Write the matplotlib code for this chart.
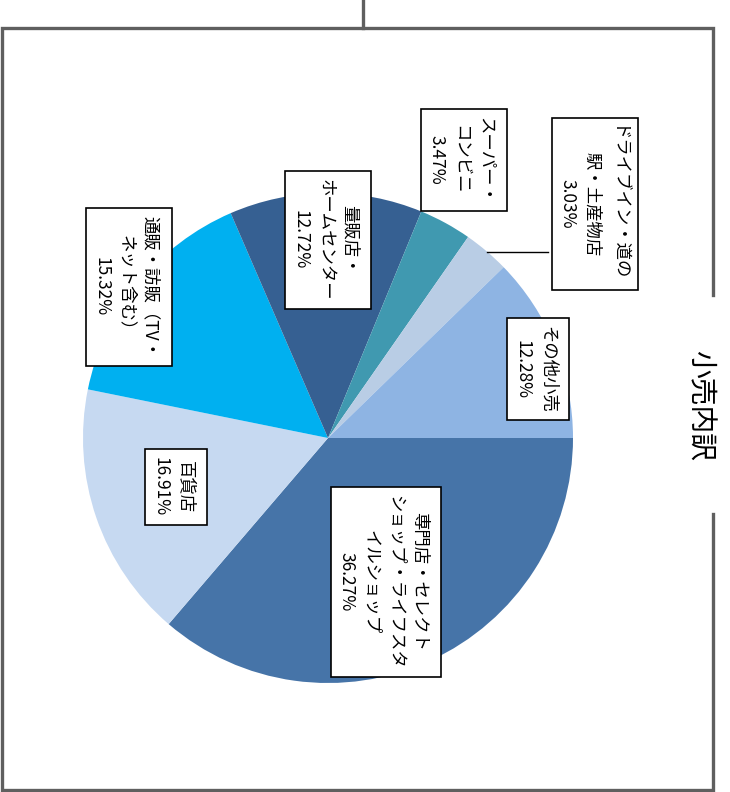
import matplotlib.pyplot as plt
from matplotlib.patches import Rectangle

plt.rcParams['font.family'] = ['Noto Sans CJK JP', 'DejaVu Sans']

# data (clockwise from 3 o'clock, as drawn)
labels = ["専門店・セレクト\nショップ・ライフスタ\nイルショップ",
          "百貨店",
          "通販・訪販（TV・\nネット含む）",
          "量販店・\nホームセンター",
          "スーパー・\nコンビニ",
          "ドライブイン・道の\n駅・土産物店",
          "その他小売"]
shares = [36.27, 16.91, 15.32, 12.72, 3.47, 3.03, 12.28]
colors = ["#4674A8", "#C6D9F1", "#00B0F0", "#366092",
          "#4099B0", "#B9CDE5", "#8EB4E3"]
# label box centres in pixels (x, y from top)
label_pos = [(383, 582), (173, 487), (126, 287), (325, 240),
             (461, 160), (592, 204), (535, 369)]

W, H = 730, 792
fig = plt.figure(figsize=(W / 100, H / 100), dpi=100)

cx, cy, r = 328, 438, 245
ax = fig.add_axes([(cx - r) / W, (H - cy - r) / H, 2 * r / W, 2 * r / H])
ax.pie(shares, colors=colors, startangle=0, counterclock=False, radius=1,
       wedgeprops=dict(linewidth=0))
ax.set_xlim(-1, 1)
ax.set_ylim(-1, 1)
ax.axis('off')

# overlay in pixel coordinates for labels and frame
ov = fig.add_axes([0, 0, 1, 1], facecolor='none')
ov.set_xlim(0, W)
ov.set_ylim(H, 0)
ov.axis('off')

gray = "#5F5F5F"
ov.plot([363, 363], [0, 28], color=gray, lw=2.4)
ov.plot([713, 713, 2, 2, 713, 713], [295, 28, 28, 790, 790, 514],
        color=gray, lw=2.4, solid_joinstyle='miter')
ov.text(700, 405, "小売内訳", rotation=-90, ha='center', va='center',
        fontsize=20)

# leader line for small slice
ov.plot([487, 548], [252, 252], color='black', lw=1)

texts = []
for lab, p, (x, y) in zip(labels, shares, label_pos):
    t = ov.text(x, y, f"{lab}\n{p:.2f}%", rotation=-90, ha='center', va='center',
                multialignment='center', fontsize=12.5, linespacing=1.45, zorder=4)
    texts.append(t)

# boxes drawn from the rendered text extents (CJK glyphs overhang on the right)
renderer = fig.canvas.get_renderer()
for t in texts:
    bb = t.get_window_extent(renderer)
    x0, x1 = bb.x0 - 7, bb.x1 + 13
    y0, y1 = H - bb.y1 - 8, H - bb.y0 + 8
    ov.add_patch(Rectangle((x0, y0), x1 - x0, y1 - y0, fc='white', ec='black',
                           lw=1.2, zorder=3))

fig.savefig("out.png", dpi=100)
